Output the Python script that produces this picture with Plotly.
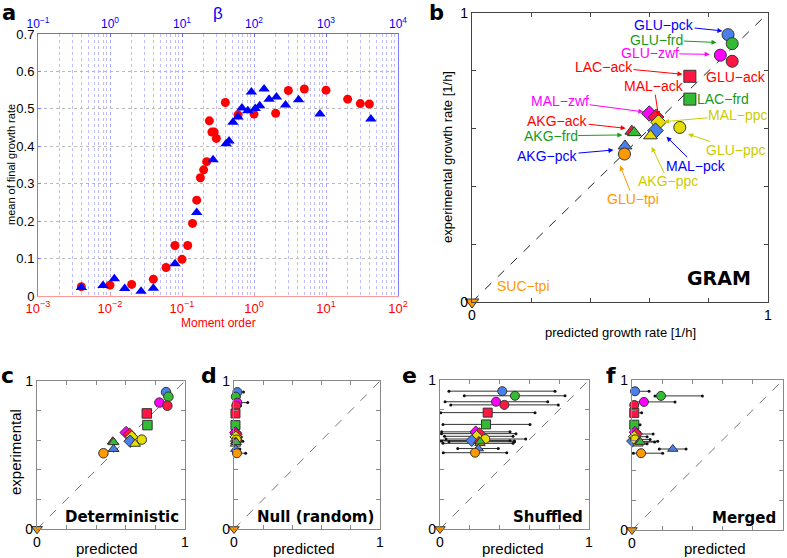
import plotly.graph_objects as go

# ---------------- Panel a data ----------------
moment_order = [0.004, 0.01, 0.02, 0.04, 0.06, 0.08, 0.1, 0.12, 0.14, 0.16, 0.18, 0.2, 0.22,
                0.24, 0.26, 0.28, 0.3, 0.4, 0.6, 1, 2, 3, 5, 10, 20, 30, 40]
growth_moment = [0.025, 0.029, 0.031, 0.045, 0.076, 0.135, 0.098, 0.135, 0.194, 0.256, 0.316,
                 0.337, 0.359, 0.468, 0.438, 0.438, 0.421, 0.517, 0.484, 0.486, 0.488, 0.549,
                 0.553, 0.550, 0.526, 0.514, 0.513]
beta = [0.4, 0.8, 1.15, 1.6, 2.7, 4, 8, 16, 27, 41, 45, 51, 60, 68, 82, 92, 104, 120, 138,
        162, 205, 274, 416, 824, 4200]
growth_beta = [0.023, 0.028, 0.046, 0.020, 0.013, 0.021, 0.086, 0.223, 0.364, 0.407, 0.414,
               0.464, 0.478, 0.502, 0.495, 0.545, 0.501, 0.508, 0.553, 0.526, 0.532, 0.510,
               0.524, 0.486, 0.473]
a_xticks = [0.001, 0.01, 0.1, 1, 10, 100]
a_xticklabels = ["10<sup>−3</sup>", "10<sup>−2</sup>", "10<sup>−1</sup>", "10<sup>0</sup>", "10<sup>1</sup>", "10<sup>2</sup>"]
b_xticks = [0.1, 1, 10, 100, 1000, 10000]
b_xticklabels = ["10<sup>−1</sup>", "10<sup>0</sup>", "10<sup>1</sup>", "10<sup>2</sup>", "10<sup>3</sup>", "10<sup>4</sup>"]

# ---------------- Strains ----------------
strains = ["GLU−pck", "GLU−frd", "GLU−zwf", "GLU−ack", "LAC−ack", "LAC−frd", "MAL−zwf",
           "MAL−ack", "MAL−ppc", "MAL−pck", "GLU−ppc", "AKG−ppc", "AKG−ack", "AKG−frd",
           "AKG−pck", "GLU−tpi", "SUC−tpi"]
symbols = ["circle", "circle", "circle", "circle", "square", "square", "diamond",
           "diamond", "diamond", "diamond", "circle", "triangle-up", "triangle-up", "triangle-up",
           "triangle-up", "circle", "triangle-down"]
colors = ["#4a80ec", "#33bb33", "#ff00ff", "#ff1744", "#ff1744", "#33bb33", "#ff00ff",
          "#ff1744", "#e6dc00", "#4a80ec", "#e6dc00", "#e6dc00", "#ff1744", "#33bb33",
          "#4a80ec", "#ff9900", "#ff9900"]
experimental = [0.925, 0.894, 0.854, 0.833, 0.781, 0.702, 0.652, 0.640, 0.622, 0.593, 0.604,
                0.575, 0.591, 0.586, 0.540, 0.512, 0.0]
pred_gram = [0.865, 0.879, 0.839, 0.879, 0.736, 0.736, 0.599, 0.622, 0.630, 0.620, 0.702,
             0.603, 0.540, 0.548, 0.517, 0.515, 0.0]
pred_det = [0.872, 0.888, 0.827, 0.881, 0.742, 0.746, 0.602, 0.625, 0.640, 0.629, 0.708,
            0.663, 0.512, 0.517, 0.517, 0.449, 0.0]
pred_null = [0.023, 0.012, 0.023, 0.015, 0.010, 0.010, 0.010, 0.015, 0.012, 0.015, 0.018,
             0.010, 0.012, 0.015, 0.012, 0.020, 0.0]
null_lo = [0.005, 0.003, 0.005, 0.003, 0.002, 0.002, 0.002, 0.003, 0.003, 0.003, 0.003,
           0.002, 0.003, 0.003, 0.003, 0.004, 0.0]
null_hi = [0.065, 0.035, 0.094, 0.045, 0.030, 0.030, 0.025, 0.040, 0.050, 0.060, 0.045,
           0.035, 0.040, 0.040, 0.040, 0.080, 0.0]
pred_shuf = [0.418, 0.503, 0.376, 0.432, 0.320, 0.309, 0.240, 0.265, 0.246, 0.213, 0.304,
             0.268, 0.260, 0.270, 0.257, 0.235, 0.0]
shuf_lo = [0.060, 0.163, 0.034, 0.072, 0.005, 0.020, 0.011, 0.010, 0.030, 0.005, 0.040,
           0.020, 0.010, 0.060, 0.119, 0.022, 0.0]
shuf_hi = [0.772, 0.839, 0.723, 0.794, 0.638, 0.604, 0.470, 0.510, 0.490, 0.470, 0.575,
           0.490, 0.500, 0.500, 0.391, 0.448, 0.0]
pred_merg = [0.020, 0.192, 0.079, 0.015, 0.015, 0.015, 0.020, 0.030, 0.015, 0.003, 0.020,
             0.040, 0.050, 0.055, 0.270, 0.060, 0.0]
merg_lo = [0.000, 0.152, 0.020, 0.000, 0.000, 0.000, 0.000, 0.000, 0.000, 0.000, 0.000,
           0.000, 0.010, 0.020, 0.181, 0.009, 0.0]
merg_hi = [0.113, 0.466, 0.285, 0.020, 0.064, 0.053, 0.050, 0.140, 0.100, 0.050, 0.120,
           0.100, 0.170, 0.150, 0.358, 0.203, 0.0]

# label placement for panel b: text position, arrow head position (None = no arrow)
label_text_x = [0.649, 0.624, 0.601, 0.893, 0.446, 0.848, 0.298, 0.615, 0.899, 0.756, 0.891,
                0.663, 0.289, 0.266, 0.255, 0.545, 0.174]
label_text_y = [0.959, 0.907, 0.860, 0.777, 0.814, 0.701, 0.696, 0.747, 0.647, 0.472, 0.526,
                0.417, 0.627, 0.575, 0.506, 0.356, 0.054]
label_head_x = [0.846, 0.826, 0.803, None, 0.711, None, 0.579, 0.630, 0.649, 0.657, 0.730,
                0.607, 0.519, 0.508, 0.478, 0.500, None]
label_head_y = [0.938, 0.898, 0.857, None, 0.788, None, 0.658, 0.643, 0.624, 0.572, 0.581,
                0.537, 0.601, 0.578, 0.526, 0.472, None]
label_colors = ["#0000ff", "#1a9a1a", "#ff00ff", "#ff0000", "#ff0000", "#1a9a1a", "#ff00ff",
                "#ff0000", "#cccc00", "#0000ff", "#cccc00", "#cccc00", "#ff0000", "#1a9a1a",
                "#0000ff", "#ff9900", "#ff9900"]

FONT = "Liberation Sans, Arial, sans-serif"
W, H = 787, 558


def px_dom(x0, x1, y0, y1):
    return [x0 / W, x1 / W], [1 - y1 / H, 1 - y0 / H]


fig = go.Figure()

# ---------------- Panel a ----------------
fig.add_trace(go.Scatter(x=moment_order, y=growth_moment, mode="markers", xaxis="x", yaxis="y",
                         marker=dict(symbol="circle", size=9, color="#ff0000"), showlegend=False))
fig.add_trace(go.Scatter(x=beta, y=growth_beta, mode="markers", xaxis="x2", yaxis="y",
                         marker=dict(symbol="triangle-up", size=10, color="#0000ff"), showlegend=False))

xa, ya = px_dom(38, 398, 34, 296)
layout = dict(
    width=W, height=H, margin=dict(l=0, r=0, t=0, b=0, autoexpand=False), paper_bgcolor="white",
    plot_bgcolor="white", font=dict(family=FONT, color="black"), showlegend=False,
    xaxis=dict(domain=xa, anchor="y", type="log", range=[-3, 2], tickvals=a_xticks,
               ticktext=a_xticklabels, tickfont=dict(color="#ff0000", size=13), automargin=False,
               showline=True, linecolor="#ff9999", linewidth=1, ticks="inside", ticklen=3,
               tickcolor="#ff9999", showgrid=True, gridcolor="#a8a8ff", griddash="dot",
               gridwidth=1, zeroline=False,
               minor=dict(dtick="D1", showgrid=True, gridcolor="#bcbcff", griddash="dot", ticks="")),
    xaxis2=dict(overlaying="x", anchor="y", side="top", type="log", range=[-1, 4],
                tickvals=b_xticks, ticktext=b_xticklabels, automargin=False,
                tickfont=dict(color="#0000ff", size=12), showline=True, linecolor="#6a6aff",
                ticks="inside", ticklen=3, tickcolor="#6a6aff", showgrid=False, zeroline=False),
    yaxis=dict(domain=ya, anchor="x", range=[0, 0.7], dtick=0.1, tickformat=".1~f",
               automargin=False,
               showline=True, linecolor="#7a7aff", mirror=True, ticks="inside", ticklen=3,
               tickcolor="#7a7aff", tickfont=dict(size=13), showgrid=True, gridcolor="#bbbbbb",
               griddash="dot", zeroline=False),
)

inner_ticks = [0.2, 0.4, 0.6, 0.8]


def scatter_axes(n, dom, linecolor):
    xd, yd = dom
    common = dict(range=[0, 1], tickvals=[0, 1], ticktext=["0", "1"], ticks="inside", ticklen=4,
                  tickcolor=linecolor, showline=True, linecolor=linecolor, linewidth=1.3,
                  mirror="ticks", showgrid=False, zeroline=False, tickfont=dict(size=14),
                  automargin=False,
                  minor=dict(tickvals=inner_ticks, ticks="inside", ticklen=4,
                             tickcolor=linecolor, showgrid=False))
    layout["xaxis%d" % n] = dict(domain=xd, anchor="y%d" % n, **common)
    layout["yaxis%d" % n] = dict(domain=yd, anchor="x%d" % n, **common)


scatter_axes(3, px_dom(472, 768, 13, 302), "#444444")
scatter_axes(4, px_dom(37, 185, 381, 529), "#888888")
scatter_axes(5, px_dom(234, 380, 381, 529), "#888888")
scatter_axes(6, px_dom(440, 589, 380, 529), "#888888")
scatter_axes(7, px_dom(632, 783, 380, 530), "#888888")


def diag(n, color):
    fig.add_trace(go.Scatter(x=[0, 1], y=[0, 1], mode="lines", xaxis="x%d" % n, yaxis="y%d" % n,
                             line=dict(color=color, dash="dash", width=1), hoverinfo="skip"))


def points(n, pred, size, lo=None, hi=None):
    if lo is not None:
        fig.add_trace(go.Scatter(
            x=pred, y=experimental, mode="markers", xaxis="x%d" % n, yaxis="y%d" % n,
            marker=dict(size=1, color="rgba(0,0,0,0)"),
            error_x=dict(type="data", symmetric=False,
                         array=[h - p for h, p in zip(hi, pred)],
                         arrayminus=[p - l for p, l in zip(pred, lo)],
                         color="#333333", thickness=1, width=0)))
        fig.add_trace(go.Scatter(
            x=lo + hi, y=experimental + experimental, mode="markers",
            xaxis="x%d" % n, yaxis="y%d" % n, marker=dict(size=3, color="#111111"),
            cliponaxis=False))
    fig.add_trace(go.Scatter(
        x=pred, y=experimental, mode="markers", xaxis="x%d" % n, yaxis="y%d" % n,
        text=strains, cliponaxis=False,
        marker=dict(symbol=symbols, color=colors, size=size,
                    line=dict(color="#333333", width=1))))


diag(3, "#222222")
points(3, pred_gram, 12)
diag(4, "#777777")
points(4, pred_det, 9.5)
diag(5, "#777777")
points(5, pred_null, 9, null_lo, null_hi)
diag(6, "#777777")
points(6, pred_shuf, 9, shuf_lo, shuf_hi)
diag(7, "#777777")
points(7, pred_merg, 9, merg_lo, merg_hi)

annotations = []
for i, name in enumerate(strains):
    c = label_colors[i]
    if label_head_x[i] is None:
        annotations.append(dict(x=label_text_x[i], y=label_text_y[i], xref="x3", yref="y3",
                                text=name, showarrow=False, borderpad=0,
                                font=dict(size=14, color=c)))
    else:
        annotations.append(dict(x=label_head_x[i], y=label_head_y[i], xref="x3", yref="y3",
                                ax=label_text_x[i], ay=label_text_y[i], axref="x3", ayref="y3",
                                text=name, showarrow=True, arrowhead=2, arrowsize=1,
                                borderpad=0,
                                arrowwidth=1, arrowcolor=c, font=dict(size=14, color=c)))

annotations.append(dict(x=0.835, y=0.083, xref="x3", yref="y3", text="<b>GRAM</b>",
                        showarrow=False, font=dict(size=19, family="DejaVu Sans, sans-serif")))
for n, txt in [(4, "Deterministic"), (5, "Null (random)"), (6, "Shuffled"), (7, "Merged")]:
    annotations.append(dict(x=0.97, y=0.08, xref="x%d" % n, yref="y%d" % n,
                            text="<b>%s</b>" % txt, showarrow=False, xanchor="right",
                            font=dict(size=15, family="DejaVu Sans, sans-serif")))


def paper_text(text, px, py, size, color="black", angle=0, family=FONT, xanchor="center",
               yanchor="middle"):
    annotations.append(dict(x=px / W, y=1 - py / H, xref="paper", yref="paper", text=text,
                            showarrow=False, textangle=angle, xanchor=xanchor, yanchor=yanchor,
                            borderpad=0, font=dict(size=size, color=color, family=family)))


# axis titles
paper_text("mean of final growth rate", 11, 165, 11, angle=-90)
paper_text("Moment order", 218, 323, 12, color="#ff0000")
paper_text("β", 218, 13, 17, color="#0000ff")
paper_text("experimental growth rate [1/h]", 447, 157, 13, angle=-90)
paper_text("predicted growth rate [1/h]", 620, 332, 13)
paper_text("experimental", 15, 452, 15, angle=-90)
for cx in [107, 304, 513, 715]:
    paper_text("predicted", cx, 548, 15)

# panel letters
paper_text("<b>a</b>", 1, 0, 21, family="DejaVu Sans, sans-serif", xanchor="left", yanchor="top")
paper_text("<b>b</b>", 428, 0, 21, family="DejaVu Sans, sans-serif", xanchor="left", yanchor="top")
for letter, px, py in [("c", 0, 375), ("d", 200, 375), ("e", 401, 375), ("f", 605, 375)]:
    paper_text("<b>%s</b>" % letter, px, py, 22, family="DejaVu Sans, sans-serif", xanchor="left")

layout["annotations"] = annotations
fig.update_layout(**layout)
fig.write_html("out.html", post_script="document.body.style.margin='0px';",
               config={"displayModeBar": False})
